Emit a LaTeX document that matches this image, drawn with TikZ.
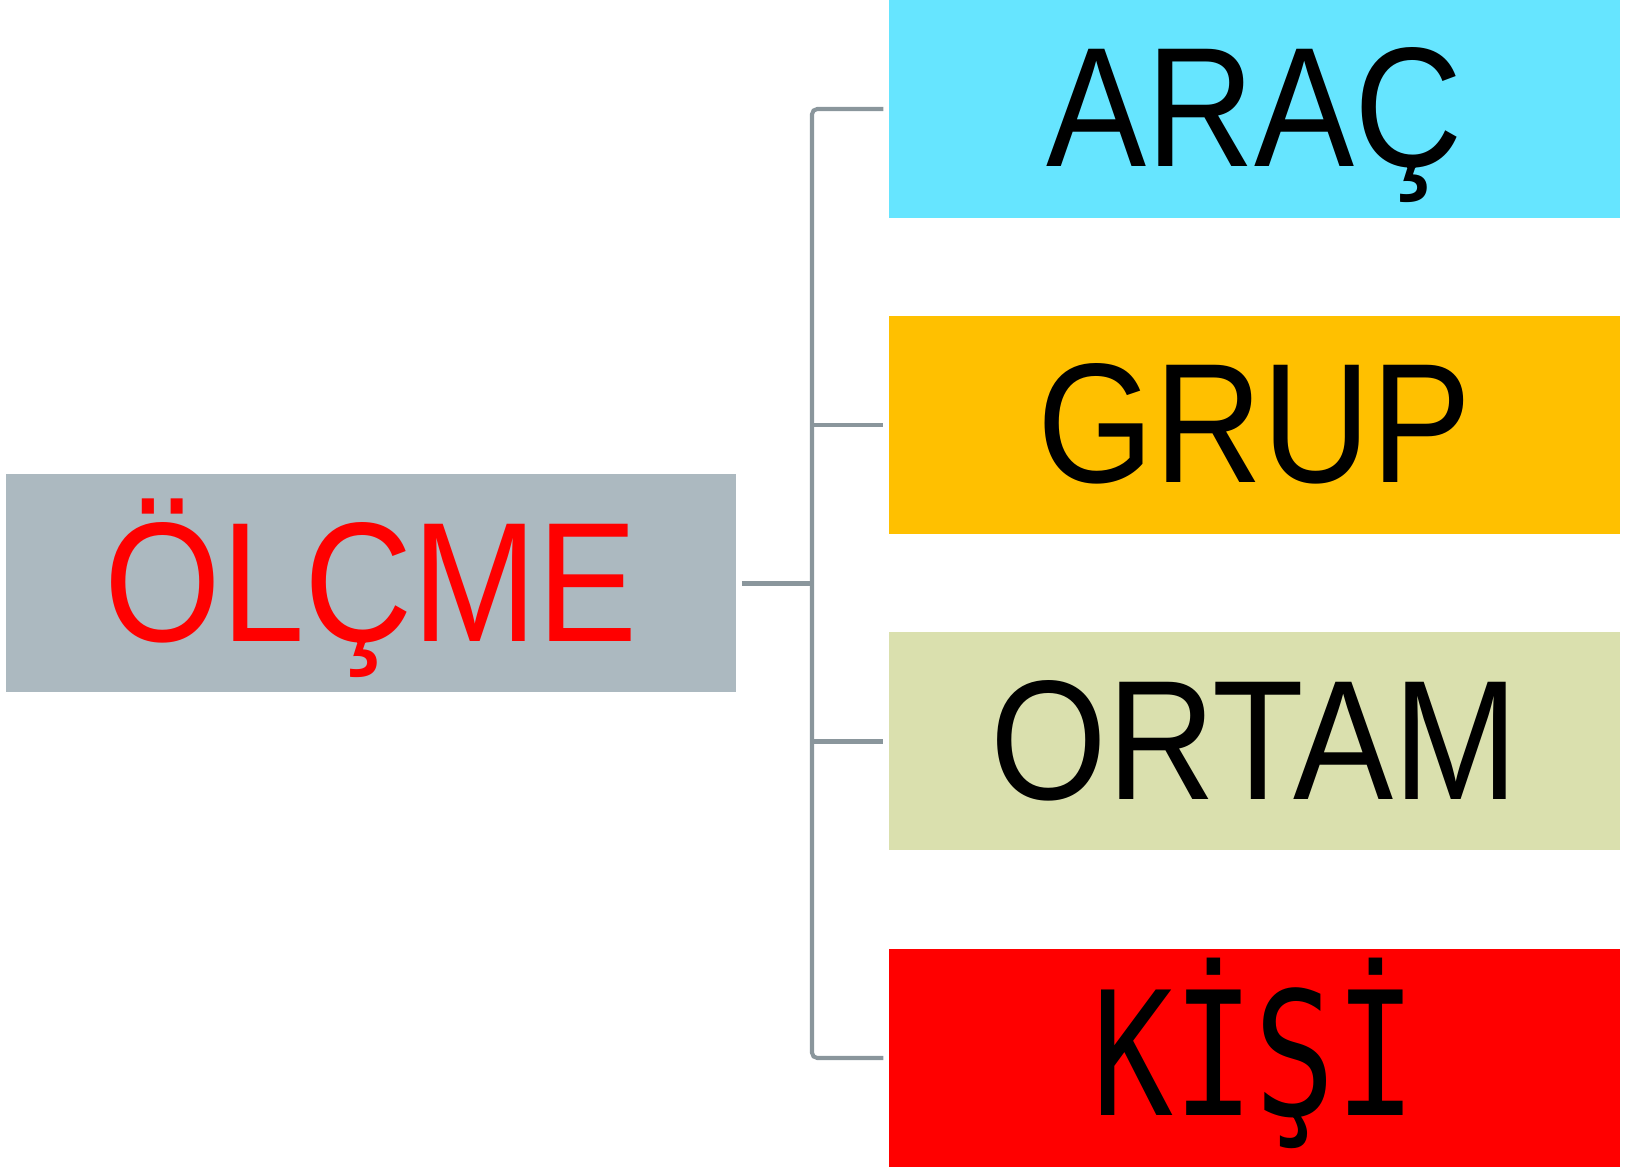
\documentclass[tikz,border=0pt]{standalone}
\usepackage{fontspec}
\usepackage{xcolor}
\usepackage{tikz}
\usetikzlibrary{positioning}
\newfontfamily\narrowsans[FakeStretch=0.88]{Liberation Sans}
\newfontfamily\monosans[FakeStretch=0.78]{DejaVu Sans Mono}
\definecolor{olcmegray}{HTML}{ACB9C0}
\definecolor{araccyan}{HTML}{66E5FF}
\definecolor{grupyellow}{HTML}{FFC000}
\definecolor{ortamkhaki}{HTML}{DAE0AE}
\definecolor{kisired}{HTML}{FF0000}
\definecolor{linkgray}{HTML}{8A969C}

\begin{document}
\begin{tikzpicture}[
  box/.style={minimum width=7.31cm, minimum height=2.18cm, inner sep=0pt,
    text height=33pt, text depth=0pt, font=\narrowsans\fontsize{48.5}{58}\selectfont},
  link/.style={draw=linkgray, line width=1.15pt}]

\useasboundingbox (0,0) rectangle (16.28,-11.67);

\node[box, fill=olcmegray, text=red, minimum width=7.3cm] (olcme) at (3.711,-5.835) {ÖLÇME};
\node[box, fill=araccyan] (arac) at (12.545,-1.09) {ARAÇ};
\node[box, fill=grupyellow] (grup) at (12.545,-4.25) {GRUP};
\node[box, fill=ortamkhaki] (ortam) at (12.545,-7.415) {ORTAM};
\node[box, fill=kisired, font=\monosans\fontsize{49}{58}\selectfont] (kisi) at (12.545,-10.58) {KİŞİ};

\coordinate (trunk) at (8.12,-5.835);

\draw[link] ([xshift=.05cm]olcme.east) -- (trunk);
\draw[link, rounded corners=1.5pt] ([xshift=-.05cm]arac.west) -| (trunk) |- ([xshift=-.05cm]kisi.west);
\draw[link] (trunk |- grup.west) -- ([xshift=-.05cm]grup.west);
\draw[link] (trunk |- ortam.west) -- ([xshift=-.05cm]ortam.west);
\end{tikzpicture}
\end{document}
